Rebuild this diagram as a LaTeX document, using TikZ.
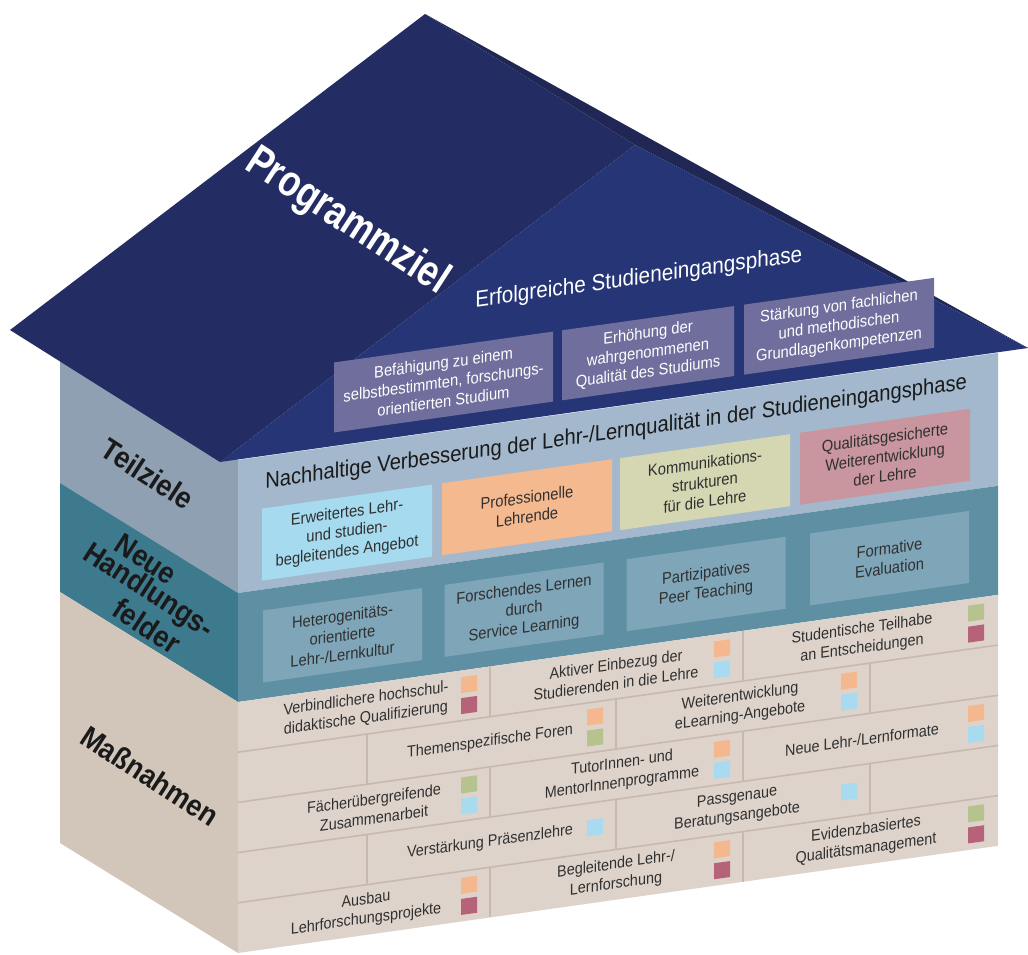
\documentclass[tikz,border=0pt]{standalone}
\usepackage{fontspec}
\setmainfont[FakeStretch=0.9]{Liberation Sans}
\newfontfamily\labelfont[FakeStretch=0.8]{Liberation Sans}
\usetikzlibrary{positioning}

\definecolor{croofleft}{RGB}{35,45,99}
\definecolor{croofedge}{RGB}{32,39,84}
\definecolor{cgable}{RGB}{37,53,118}
\definecolor{cgablebox}{RGB}{111,110,157}
\definecolor{czielfront}{RGB}{163,184,204}
\definecolor{czielside}{RGB}{143,160,178}
\definecolor{cfeldfront}{RGB}{95,143,163}
\definecolor{cfeldside}{RGB}{62,122,142}
\definecolor{cfeldbox}{RGB}{127,165,185}
\definecolor{cmassfront}{RGB}{221,211,203}
\definecolor{cmassside}{RGB}{210,198,187}
\definecolor{cbrickline}{RGB}{199,185,175}
\definecolor{csqorange}{RGB}{245,183,142}
\definecolor{csqmauve}{RGB}{182,99,122}
\definecolor{csqgreen}{RGB}{183,195,142}
\definecolor{csqblue}{RGB}{168,219,239}
\definecolor{cboxcyan}{RGB}{166,218,239}
\definecolor{cboxorange}{RGB}{245,185,144}
\definecolor{cboxkhaki}{RGB}{212,215,177}
\definecolor{cboxpink}{RGB}{201,149,158}
\definecolor{ctext}{RGB}{48,48,48}
\definecolor{clabel}{RGB}{26,26,26}

\begin{document}
\begin{tikzpicture}[x=0.5pt, y=-0.5pt,
    frontwall/.style={shift={(238,460)}, yslant=0.141},
    sidewall/.style={shift={(238,460)}, yslant=-0.618},
    zielbox/.style={transform shape, minimum width=85pt, minimum height=36pt, inner sep=0pt,
      align=center, text=ctext, font=\fontsize{8.2}{9.7}\selectfont},
    feldbox/.style={zielbox, fill=cfeldbox, minimum width=79.5pt},
    gablebox/.style={zielbox, fill=cgablebox, text=white, minimum height=35pt},
    bricktext/.style={transform shape, align=center, inner sep=0pt, text=ctext,
      font=\fontsize{8}{9.8}\selectfont},
    sq/.style={transform shape, minimum size=8pt, inner sep=0pt},
    sidelabel/.style={rotate=-33, inner sep=0pt, text=clabel,
      font=\bfseries\fontsize{15}{16}\selectfont},
    brickrule/.style={draw=cbrickline, line width=0.8pt}]
  \useasboundingbox (0,0) rectangle (1028,954);

  % left wall
  \begin{scope}[sidewall]
    \fill[czielside] (-178,0) rectangle (0,133);
    \fill[cfeldside] (-178,133) rectangle (0,242);
    \fill[cmassside] (-178,242) rectangle (0,493);
  \end{scope}
  \node[sidelabel] (teilziele) at (148,474) {Teilziele};
  \node[sidelabel] (neue) at (146,559) {Neue};
  \node[sidelabel] (handlung) at (148,592) {Handlungs-};
  \node[sidelabel] (felder) at (147,626) {felder};
  \node[sidelabel] (massnahmen) at (150,776) {Maßnahmen};

  % front wall
  \begin{scope}[frontwall]
    \fill[czielfront] (0,0) rectangle (760,133);
    \fill[cfeldfront] (0,133) rectangle (760,242);
    \fill[cmassfront] (0,242) rectangle (760,493);

    \node[anchor=base west, inner sep=0pt, transform shape, text=clabel,
      font=\fontsize{11.2}{13}\selectfont] (nachhaltig) at (27,32)
      {Nachhaltige Verbesserung der Lehr-/Lernqualität in der Studieneingangsphase};
    \node[zielbox, fill=cboxcyan] (erweitert) at (109,88) {Erweitertes Lehr-\\und studien-\\begleitendes Angebot};
    \node[zielbox, fill=cboxorange] (lehrende) at (289,88) {Professionelle\\Lehrende};
    \node[zielbox, fill=cboxkhaki] (kommunikation) at (467,88) {Kommunikations-\\strukturen\\für die Lehre};
    \node[zielbox, fill=cboxpink] (qualitaet) at (647,88) {Qualitätsgesicherte\\Weiterentwicklung\\der Lehre};

    \node[feldbox] (hetero) at (104.5,190) {Heterogenitäts-\\orientierte\\Lehr-/Lernkultur};
    \node[feldbox] (forschend) at (286,190) {Forschendes Lernen\\durch\\Service Learning};
    \node[feldbox] (peer) at (468,190) {Partizipatives\\Peer Teaching};
    \node[feldbox] (formativ) at (651.5,190) {Formative\\Evaluation};

    % bricks
    \foreach \r in {1,...,4}
      \draw[brickrule] (0,{242+50.2*\r}) -- (760,{242+50.2*\r});
    \foreach \r in {0,2,4}
      \foreach \d in {252,505}
        \draw[brickrule] (\d,{242+50.2*\r}) -- (\d,{242+50.2*(\r+1)});
    \foreach \r in {1,3}
      \foreach \d in {129,378,632}
        \draw[brickrule] (\d,{242+50.2*\r}) -- (\d,{242+50.2*(\r+1)});

    \node[bricktext] (verbindlich) at (128,267.1) {Verbindlichere hochschul-\\didaktische Qualifizierung};
    \node[bricktext] (einbezug) at (378,267.1) {Aktiver Einbezug der\\Studierenden in die Lehre};
    \node[bricktext] (teilhabe) at (624,267.1) {Studentische Teilhabe\\an Entscheidungen};
    \node[bricktext] (foren) at (252,317.3) {Themenspezifische Foren};
    \node[bricktext] (elearning) at (502,317.3) {Weiterentwicklung\\eLearning-Angebote};
    \node[bricktext] (faecher) at (136,367.5) {Fächerübergreifende\\Zusammenarbeit};
    \node[bricktext] (tutor) at (384,367.5) {TutorInnen- und\\MentorInnenprogramme};
    \node[bricktext] (formate) at (624,367.5) {Neue Lehr-/Lernformate};
    \node[bricktext] (praesenz) at (252,417.7) {Verstärkung Präsenzlehre};
    \node[bricktext] (beratung) at (499,417.7) {Passgenaue\\Beratungsangebote};
    \node[bricktext] (ausbau) at (128,467.9) {Ausbau\\Lehrforschungsprojekte};
    \node[bricktext] (begleitend) at (378,467.9) {Begleitende Lehr-/\\Lernforschung};
    \node[bricktext] (evidenz) at (628,467.9) {Evidenzbasiertes\\Qualitätsmanagement};

    \foreach \nm/\u/\v/\col in {
        verbindlich-a/231/256.6/csqorange, verbindlich-b/231/277.6/csqmauve,
        einbezug-a/484/256.6/csqorange, einbezug-b/484/277.6/csqblue,
        teilhabe-a/738/256.6/csqgreen, teilhabe-b/738/277.6/csqmauve,
        foren-a/357/306.8/csqorange, foren-b/357/327.8/csqgreen,
        elearning-a/611/306.8/csqorange, elearning-b/611/327.8/csqblue,
        faecher-a/231/357/csqgreen, faecher-b/231/378/csqblue,
        tutor-a/484/357/csqorange, tutor-b/484/378/csqblue,
        formate-a/738/357/csqorange, formate-b/738/378/csqblue,
        praesenz-a/357/417.7/csqblue,
        beratung-a/611/417.7/csqblue,
        ausbau-a/231/457.4/csqorange, ausbau-b/231/478.4/csqmauve,
        begleitend-a/484/457.4/csqorange, begleitend-b/484/478.4/csqmauve,
        evidenz-a/738/457.4/csqgreen, evidenz-b/738/478.4/csqmauve}
      \node[sq, fill=\col] (\nm) at (\u,\v) {};
  \end{scope}

  % roof
  \fill[croofleft] (425,14) -- (635,145) -- (220,462) -- (10,330) -- cycle;
  \fill[croofedge] (425,14) -- (1028,348) -- (635,145) -- cycle;
  \fill[cgable] (635,145) -- (1028,348) -- (220,462) -- cycle;
  \node[rotate=-33, inner sep=0pt, text=white,
    font=\labelfont\bfseries\fontsize{22}{24}\selectfont] (programmziel) at (347,222) {Programmziel};

  \begin{scope}[frontwall]
    \node[anchor=base west, inner sep=0pt, transform shape, text=white,
      font=\fontsize{11.5}{13}\selectfont] (erfolg) at (237,-119) {Erfolgreiche Studieneingangsphase};
    \node[gablebox, minimum width=109.5pt] (befaehigung) at (205.5,-49)
      {Befähigung zu einem\\selbstbestimmten, forschungs-\\orientierten Studium};
    \node[gablebox, minimum width=86pt] (erhoehung) at (410,-49)
      {Erhöhung der\\wahrgenommenen\\Qualität des Studiums};
    \node[gablebox, minimum width=95pt] (staerkung) at (601,-49)
      {Stärkung von fachlichen\\und methodischen\\Grundlagenkompetenzen};
  \end{scope}
\end{tikzpicture}
\end{document}
